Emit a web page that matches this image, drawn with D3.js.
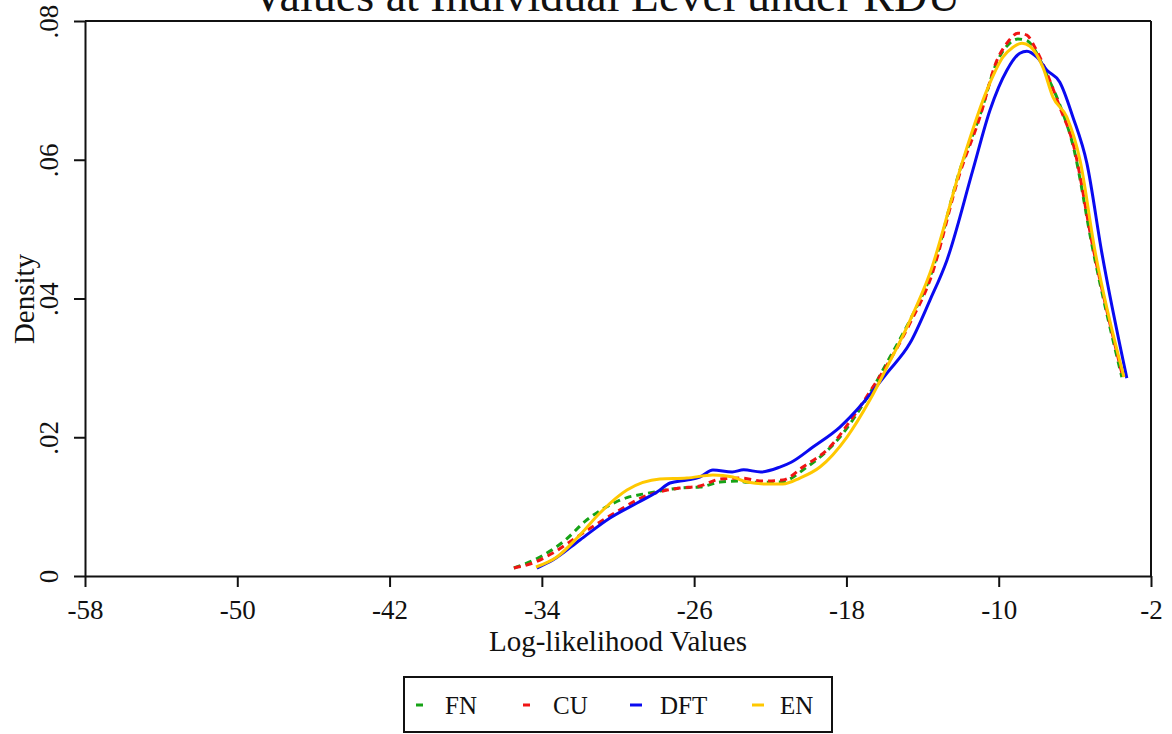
<!DOCTYPE html>
<html>
<head>
<meta charset="utf-8">
<script src="https://cdn.jsdelivr.net/npm/d3@7"></script>
<style>
  body { margin: 0; background: #fff; }
  svg text { font-family: "Liberation Serif", "DejaVu Serif", serif; fill: #111; }
</style>
</head>
<body>
<div id="chart"></div>
<script>
// Kernel density points: [log-likelihood, density]
var fnData = [[-35.47,0.00115],[-34.10,0.00274],[-32.89,0.0049],[-31.63,0.0081],[-30.58,0.0100],[-29.53,0.0113],
  [-28.69,0.0118],[-27.80,0.01225],[-26.75,0.01268],[-25.70,0.01282],[-24.64,0.01354],[-23.59,0.01369],[-23.23,0.0135],
  [-21.49,0.01354],[-20.07,0.01571],[-18.34,0.02003],[-16.77,0.02637],[-15.71,0.03156],[-14.66,0.03689],[-13.61,0.04308],
  [-12.04,0.0585],[-10.99,0.0664],[-10.09,0.0741],[-9.57,0.0764],[-8.99,0.0774],[-8.47,0.0771],[-8.10,0.0758],
  [-7.47,0.0722],[-6.79,0.0679],[-6.10,0.0621],[-5.05,0.0470],[-3.53,0.02867]];
var cuData = [[-35.47,0.00115],[-34.47,0.00187],[-33.42,0.00331],[-32.16,0.00562],[-30.95,0.00778],[-29.74,0.0098],
  [-28.69,0.01138],[-27.64,0.01225],[-26.75,0.01268],[-25.70,0.01297],[-24.64,0.01398],[-23.59,0.01412],[-22.39,0.01369],
  [-21.34,0.01383],[-20.29,0.01571],[-18.87,0.01859],[-17.66,0.02291],[-16.61,0.02723],[-15.71,0.03112],[-14.66,0.03645],
  [-13.61,0.04265],[-12.04,0.05807],[-10.99,0.06614],[-10.09,0.07435],[-9.57,0.0768],[-8.99,0.07824],[-8.52,0.07795],
  [-8.10,0.07622],[-7.47,0.07248],[-6.79,0.06758],[-6.10,0.06239],[-5.05,0.0474],[-3.48,0.02867]];
var dftData = [[-34.26,0.00115],[-33.42,0.0023],[-32.00,0.00519],[-30.42,0.00836],[-29.00,0.01052],[-27.95,0.0121],
  [-27.27,0.0134],[-26.38,0.01383],[-25.70,0.01427],[-25.01,0.01527],[-24.00,0.0150],[-23.40,0.0153],[-22.50,0.0150],
  [-21.50,0.0157],[-20.90,0.0164],[-19.76,0.01859],[-18.34,0.02147],[-17.13,0.02493],[-15.87,0.02925],[-14.66,0.03357],
  [-13.61,0.03977],[-12.72,0.04553],[-11.36,0.0585],[-10.46,0.06714],[-9.57,0.07291],[-8.89,0.07536],[-8.52,0.07565],
  [-7.99,0.07478],[-7.47,0.07291],[-6.79,0.07118],[-6.10,0.06614],[-5.37,0.05951],[-4.58,0.04654],[-3.27,0.02853]];
var enData = [[-34.31,0.0013],[-33.21,0.00274],[-32.00,0.00591],[-30.95,0.00908],[-29.53,0.01239],[-27.80,0.01398],
  [-26.38,0.01412],[-25.01,0.01455],[-23.96,0.01427],[-23.23,0.01354],[-22.18,0.01326],[-21.34,0.01326],[-20.44,0.01412],
  [-19.39,0.01571],[-17.97,0.02003],[-16.77,0.02536],[-15.87,0.03011],[-14.82,0.03588],[-13.61,0.04366],[-11.88,0.05994],
  [-10.62,0.07003],[-9.78,0.07478],[-9.25,0.07622],[-8.78,0.0768],[-8.36,0.07637],[-7.68,0.07334],[-7.15,0.06902],
  [-6.42,0.06614],[-5.73,0.05994],[-4.95,0.04697],[-3.42,0.02867]];

var seriesNames = ["FN", "CU", "DFT", "EN"];
var xTicks = [-58, -50, -42, -34, -26, -18, -10, -2];
var yTicks = [0, 0.02, 0.04, 0.06, 0.08];
var yTickLabels = ["0", ".02", ".04", ".06", ".08"];

var series = [
  { name: "FN", data: fnData, color: "#16a316", dash: "7,5" },
  { name: "CU", data: cuData, color: "#f01414", dash: "7,5" },
  { name: "DFT", data: dftData, color: "#0a0af0", dash: null },
  { name: "EN", data: enData, color: "#ffc800", dash: null }
];

var svgWidth = 1172, svgHeight = 734;
var margin = { top: 21, right: 21, bottom: 158, left: 85 };
var width = svgWidth - margin.left - margin.right;
var height = svgHeight - margin.top - margin.bottom;

var svg = d3.select("#chart")
  .append("svg")
  .attr("width", svgWidth)
  .attr("height", svgHeight);

var g = svg.append("g")
  .attr("transform", "translate(" + margin.left + "," + margin.top + ")");

var xScale = d3.scaleLinear().domain([-58, -2]).range([0, width]);
var yScale = d3.scaleLinear().domain([0, 0.08]).range([height, 0]);

// Title (cut off at the top like the original)
svg.append("text")
  .attr("x", 606)
  .attr("y", 11)
  .attr("text-anchor", "middle")
  .style("font-size", "46px")
  .text("Values at Individual Level under RDU");

// top and right frame lines
g.append("line").attr("x1", 0).attr("x2", width).attr("y1", 0).attr("y2", 0)
  .attr("stroke", "#111").attr("stroke-width", 2);
g.append("line").attr("x1", width).attr("x2", width).attr("y1", 0).attr("y2", height)
  .attr("stroke", "#111").attr("stroke-width", 2);

// Axes
var xAxis = g.append("g")
  .attr("transform", "translate(0," + height + ")")
  .call(d3.axisBottom(xScale).tickValues(xTicks).tickSize(11).tickSizeOuter(0).tickPadding(13)
    .tickFormat(d => String(d)));
xAxis.selectAll("text").style("font-size", "27px").attr("fill", "#111");

var yAxis = g.append("g")
  .call(d3.axisLeft(yScale).tickValues(yTicks).tickSize(11).tickSizeOuter(0)
    .tickFormat(function(d, i) { return yTickLabels[i]; }));
yAxis.selectAll("text")
  .style("font-size", "27px")
  .attr("fill", "#111")
  .attr("text-anchor", "middle")
  .attr("x", 0).attr("dy", 0)
  .attr("transform", "translate(-27,0) rotate(-90)");

g.selectAll(".domain, .tick line").attr("stroke", "#111").attr("stroke-width", 2);

// Axis titles
svg.append("text")
  .attr("x", 618).attr("y", 651)
  .attr("text-anchor", "middle")
  .style("font-size", "29px")
  .text("Log-likelihood Values");

svg.append("text")
  .attr("transform", "translate(34,299) rotate(-90)")
  .attr("text-anchor", "middle")
  .style("font-size", "29px")
  .text("Density");

// Density curves
var line = d3.line()
  .x(d => xScale(d[0]))
  .y(d => yScale(d[1]))
  .curve(d3.curveMonotoneX);

g.selectAll(".curve")
  .data(series)
  .enter().append("path")
  .attr("class", "curve")
  .attr("d", d => line(d.data))
  .attr("fill", "none")
  .attr("stroke", d => d.color)
  .attr("stroke-width", 3)
  .attr("stroke-dasharray", d => d.dash);

// Legend
var legend = svg.append("g");
legend.append("rect")
  .attr("x", 404).attr("y", 677)
  .attr("width", 428).attr("height", 55)
  .attr("fill", "#fff")
  .attr("stroke", "#111")
  .attr("stroke-width", 2);

var legendX = [416, 523, 630, 752];
var textX = [445, 553, 660, 780];
series.forEach(function(s, i) {
  var len = s.dash ? 7 : 12;
  legend.append("line")
    .attr("x1", legendX[i]).attr("x2", legendX[i] + len)
    .attr("y1", 705).attr("y2", 705)
    .attr("stroke", s.color)
    .attr("stroke-width", 3);
  legend.append("text")
    .attr("x", textX[i]).attr("y", 714)
    .style("font-size", "25px")
    .text(seriesNames[i]);
});
</script>
</body>
</html>
